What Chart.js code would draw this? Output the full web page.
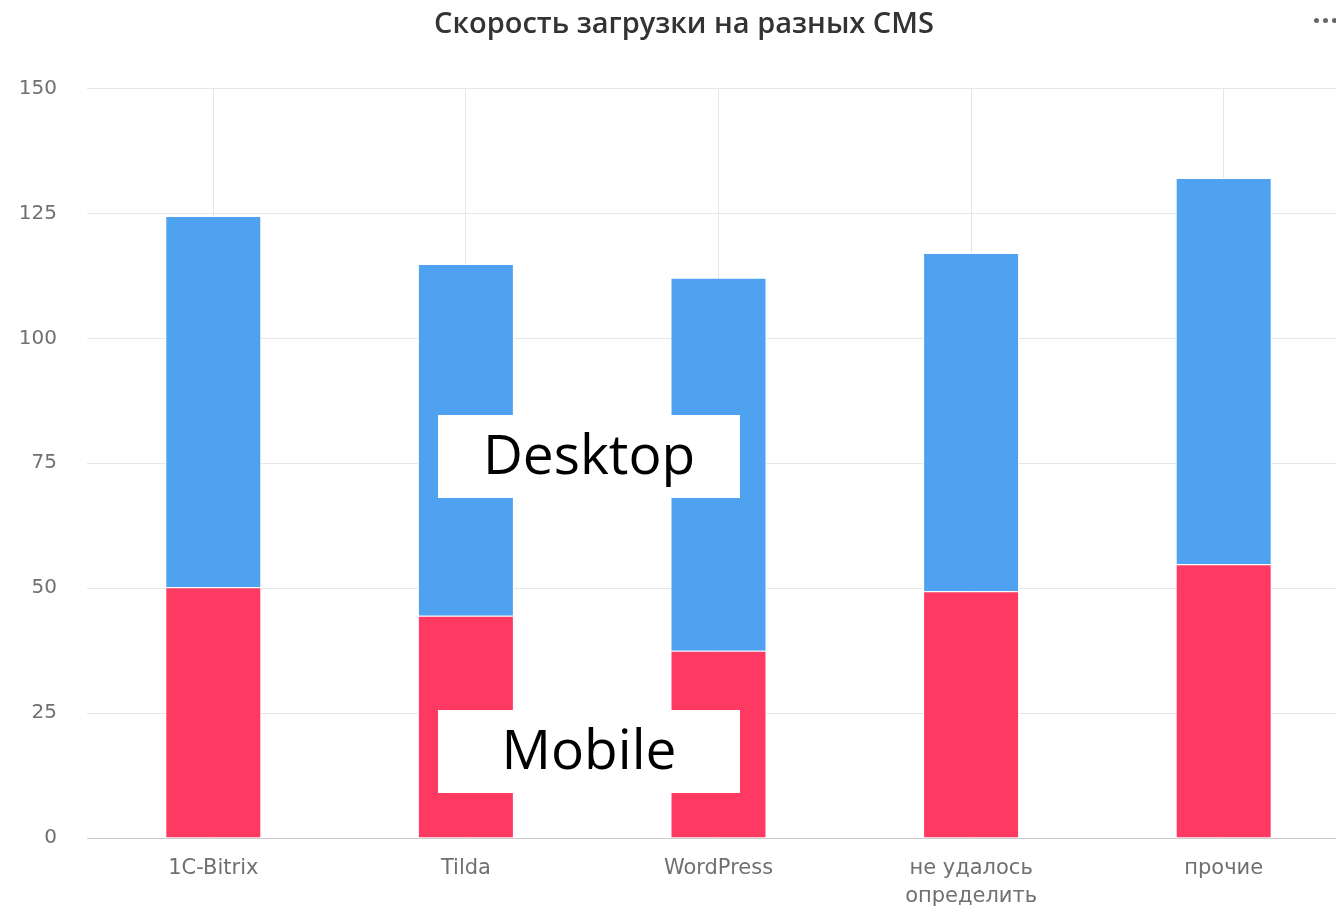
<!DOCTYPE html>
<html>
<head>
<meta charset="utf-8">
<script src="https://cdn.jsdelivr.net/npm/chart.js@4/dist/chart.umd.min.js"></script>
<style>
  html, body { margin: 0; padding: 0; background: #fff; overflow: hidden; width: 1336px; height: 908px; }
  #wrap { position: absolute; left: 0; top: 0; width: 1350px; height: 908px; }
  .note { position: absolute; left: 438px; width: 302px; height: 83px; background: #fff; box-sizing: border-box;
          padding-bottom: 8px;
          font-family: 'Open Sans', sans-serif; font-size: 55px; color: #000;
          display: flex; align-items: center; justify-content: center; line-height: 1; }
  .dot { position: absolute; top: 18px; width: 5px; height: 5px; border-radius: 50%; background: #666; }
</style>
</head>
<body>
<div id="wrap"><canvas id="c"></canvas></div>
<div class="note" style="top:415px;">Desktop</div>
<div class="note" style="top:710px;">Mobile</div>
<div class="dot" style="left:1314px"></div>
<div class="dot" style="left:1323px"></div>
<div class="dot" style="left:1332px"></div>
<script>
const categories = ['1C-Bitrix', 'Tilda', 'WordPress', ['не удалось', 'определить'], 'прочие'];
const mobileValues = [50.2, 44.5, 37.5, 49.4, 54.8];
const desktopValues = [74.3, 70.4, 74.6, 67.7, 77.3];
const yTicks = [0, 25, 50, 75, 100, 125, 150];
const chartTitle = 'Скорость загрузки на разных CMS';

const yTickFont = { family: "'DejaVu Sans', sans-serif", size: 20, lineHeight: 1.2 };
const xTickFont = { family: "'DejaVu Sans', sans-serif", size: 21, lineHeight: 1.32 };

new Chart(document.getElementById('c'), {
  type: 'bar',
  data: {
    labels: categories,
    datasets: [
      { label: 'Mobile', data: mobileValues, backgroundColor: '#ff3a62', borderColor: '#ffffff', borderWidth: 1,
        barPercentage: 0.38, categoryPercentage: 1 },
      { label: 'Desktop', data: desktopValues, backgroundColor: '#4ea2f0', borderColor: '#ffffff', borderWidth: 1,
        barPercentage: 0.38, categoryPercentage: 1 }
    ]
  },
  options: {
    responsive: true,
    maintainAspectRatio: false,
    animation: false,
    layout: { padding: { left: 18, right: 0, top: 0, bottom: 0 } },
    plugins: {
      legend: { display: false },
      tooltip: { enabled: false },
      title: {
        display: true, text: chartTitle, color: '#333333',
        font: { family: "'Open Sans', sans-serif", size: 29, weight: '600', lineHeight: 1.2 },
        padding: { top: 7, bottom: 46.7 }
      }
    },
    scales: {
      x: {
        stacked: true,
        offset: true,
        grid: { display: true, offset: false, drawTicks: false, color: '#e6e6e6', lineWidth: 1 },
        border: { display: true, color: '#cccccc', width: 1 },
        ticks: { color: '#707070', font: xTickFont, padding: 17, maxRotation: 0, autoSkip: false },
        afterFit: (s) => { s.height = 70; }
      },
      y: {
        stacked: true,
        min: yTicks[0], max: yTicks[yTicks.length - 1],
        afterBuildTicks: (s) => { s.ticks = yTicks.map(v => ({ value: v })); },
        grid: { drawTicks: false, color: '#e6e6e6', lineWidth: 1 },
        border: { display: false },
        ticks: { color: '#707070', font: yTickFont, padding: 30 },
        afterFit: (s) => { s.width = 69; }
      }
    }
  }
});
</script>
</body>
</html>
